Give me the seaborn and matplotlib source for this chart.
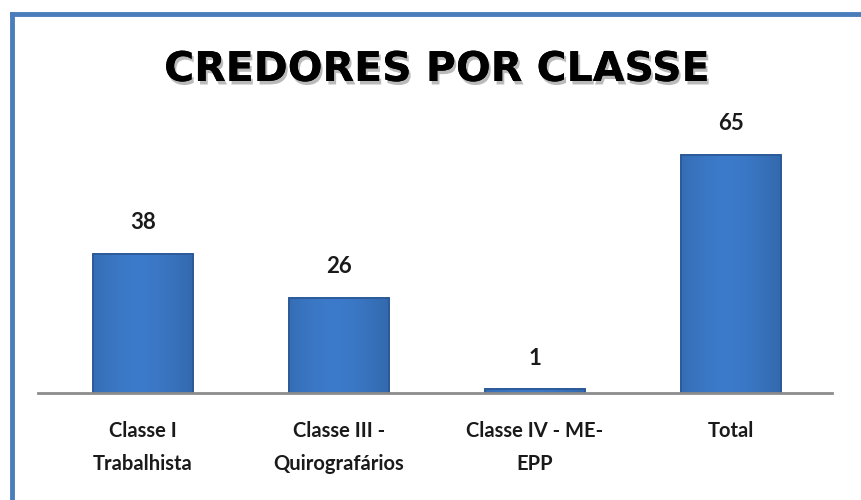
import matplotlib
matplotlib.use("Agg")
import matplotlib.pyplot as plt
import matplotlib.patheffects as pe
from matplotlib.lines import Line2D
import numpy as np
import seaborn as sns
import pandas as pd

categories = ["Classe I\nTrabalhista", "Classe III -\nQuirografários", "Classe IV - ME-\nEPP", "Total"]
values = [38, 26, 1, 65]
title = "CREDORES POR CLASSE"

sns.set_theme(style="white")
plt.rcParams['font.family'] = ['Lato', 'DejaVu Sans']

df = pd.DataFrame({"categoria": categories, "valor": values})

fig = plt.figure(figsize=(8.61, 5.0), dpi=100)
ax = fig.add_axes([38/861, 1-393/500, (832-38)/861, (393-100)/500])

sns.barplot(data=df, x="categoria", y="valor", ax=ax, color="#3A76C4",
            edgecolor="#2A5896", linewidth=1.2, width=0.51, saturation=1)

ax.set_ylim(0, 80)
ax.set_xlim(-0.536, 3.515)
ax.set_xlabel("")
ax.set_ylabel("")
ax.set_yticks([])
for s in ["top", "left", "right"]:
    ax.spines[s].set_visible(False)
ax.spines["bottom"].set_color("#8c8c8c")
ax.spines["bottom"].set_linewidth(2)
ax.tick_params(axis="x", length=0, pad=20)
for lbl in ax.get_xticklabels():
    lbl.set_fontsize(14.5)
    lbl.set_fontweight("bold")
    lbl.set_color("#1a1a1a")
    lbl.set_linespacing(1.85)

# subtle horizontal gradient inside each bar (shading like the original)
grad = np.linspace(0, 1, 64)
shade = 1 - 0.35 * np.abs(grad - 0.45) ** 1.5
cmap_img = np.zeros((1, 64, 4))
base = np.array(matplotlib.colors.to_rgb("#3C7BCB"))
for i, s in enumerate(shade):
    cmap_img[0, i, :3] = base * s
    cmap_img[0, i, 3] = 1
for p in ax.patches:
    x0, y0 = p.get_x(), p.get_y()
    w, h = p.get_width(), p.get_height()
    im = ax.imshow(cmap_img, extent=[x0, x0 + w, y0, y0 + h], aspect="auto",
                   zorder=p.get_zorder() + 0.1, interpolation="bilinear")
    im.set_clip_path(p)
    ax.add_patch(plt.Rectangle((x0, y0), w, h, fill=False, edgecolor="#2A5896",
                               linewidth=1.2, zorder=p.get_zorder() + 0.2))
ax.set_xlim(-0.536, 3.515)
ax.set_ylim(0, 80)

for c in ax.containers:
    ax.bar_label(c, labels=[str(v) for v in values], padding=15,
                 fontsize=16, fontweight="bold", color="#1a1a1a")

t = fig.text(437/861, 1-70/500, title, ha="center", va="center", fontsize=29.5,
             fontweight="bold", color="black", family=["DejaVu Sans"],
             path_effects=[pe.withSimplePatchShadow(offset=(1.5, -2.5), shadow_rgbFace="#777777", alpha=0.5),
                           pe.Normal()])

# chart border (left and top visible)
fig.add_artist(Line2D([12/861, 12/861], [0, 1-14/500], transform=fig.transFigure,
                      color="#4A7EBB", linewidth=3.5, solid_capstyle="projecting"))
fig.add_artist(Line2D([12/861, 1], [1-14/500, 1-14/500], transform=fig.transFigure,
                      color="#4A7EBB", linewidth=3.5, solid_capstyle="projecting"))

fig.savefig("out.png", dpi=100)
